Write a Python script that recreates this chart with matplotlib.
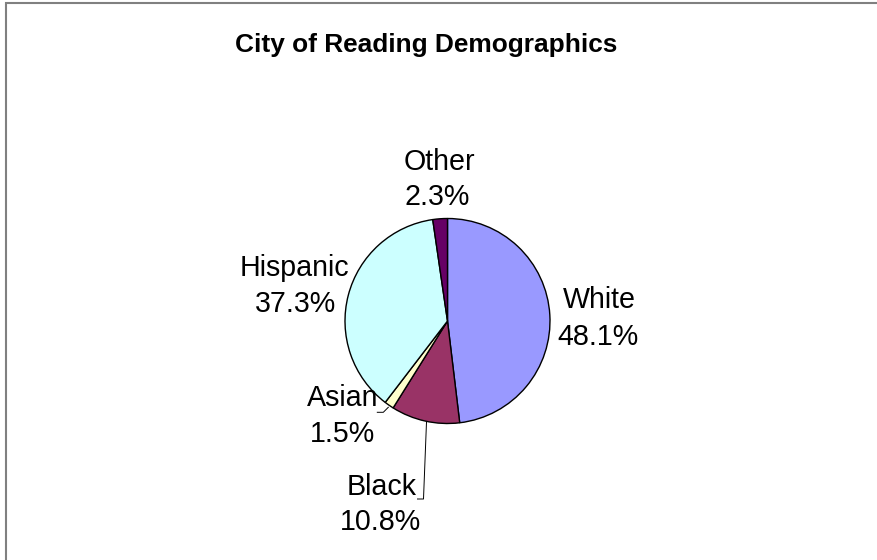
import matplotlib.pyplot as plt
from matplotlib.patches import Rectangle

# data
groups = ['White', 'Black', 'Asian', 'Hispanic', 'Other']
shares = [48.1, 10.8, 1.5, 37.3, 2.3]
colors = ['#9999FF', '#993366', '#FFFFCC', '#CCFFFF', '#660066']

W, H = 877, 560
def py(y):  # pixel row (from top) -> data y
    return H - y

fig = plt.figure(figsize=(W / 100, H / 100), dpi=100)
ax = fig.add_axes([0, 0, 1, 1])
ax.set_xlim(0, W)
ax.set_ylim(0, H)
ax.axis('off')

# chart frame (runs off the right and bottom edges)
ax.add_patch(Rectangle((5.5, -20), W + 40, py(2.5) + 20, fill=False,
                       edgecolor='#808080', lw=1.5))

ax.pie(shares, colors=colors, startangle=90, counterclock=False,
       center=(447.5, py(321)), radius=102.5, frame=True,
       wedgeprops=dict(edgecolor='black', linewidth=1))
ax.set_xlim(0, W)
ax.set_ylim(0, H)
ax.axis('off')

font = 'Liberation Sans'
ax.text(426, py(52), 'City of Reading Demographics', ha='center', va='baseline',
        fontsize=18.9, fontweight='bold', family=font)

# label layout: (name x, name baseline, pct x, pct baseline)
label_pos = {
    'White': (599.5, 308, 598.5, 345),
    'Black': (381.5, 495, 380.5, 529.5),
    'Asian': (342.5, 406.5, 342.5, 441.5),
    'Hispanic': (294.5, 276.5, 295.5, 311.5),
    'Other': (439, 170, 437.5, 205),
}
for g, s in zip(groups, shares):
    x1, y1, x2, y2 = label_pos[g]
    ax.text(x1, py(y1), g, ha='center', va='baseline', fontsize=20.6, family=font)
    ax.text(x2, py(y2), f'{s:.1f}%', ha='center', va='baseline', fontsize=20.6, family=font)

# leader lines
ax.plot([388.3, 383.3, 377.3], [py(407.3), py(412.3), py(412.3)], color='black', lw=0.7)
ax.plot([426.5, 423.5, 417.5], [py(422), py(499), py(499)], color='black', lw=0.7)

fig.savefig('out.png', dpi=100)
